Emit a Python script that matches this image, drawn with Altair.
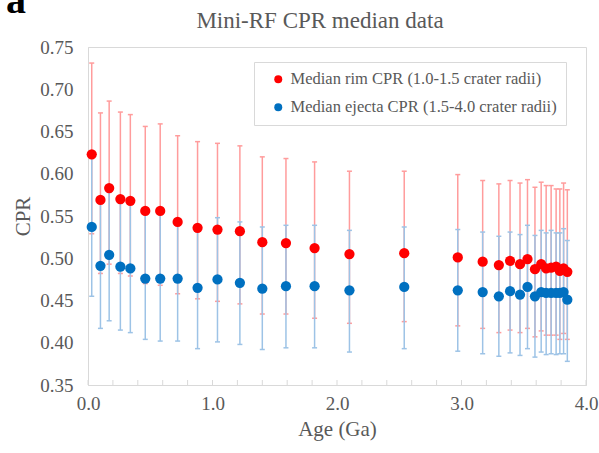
import altair as alt
import pandas as pd

# Crater age (Ga) and Mini-RF CPR statistics per age bin
age = [0.03, 0.10, 0.17, 0.26, 0.34, 0.46, 0.58, 0.72, 0.88, 1.04,
       1.22, 1.40, 1.59, 1.82, 2.10, 2.54, 2.97, 3.17, 3.30, 3.39,
       3.47, 3.53, 3.59, 3.64, 3.68, 3.72, 3.76, 3.79, 3.82, 3.85]

rim_median = [0.623, 0.569, 0.583, 0.570, 0.568, 0.556, 0.556, 0.543, 0.536, 0.534,
              0.532, 0.519, 0.518, 0.512, 0.505, 0.506, 0.501, 0.496, 0.492, 0.497,
              0.493, 0.499, 0.487, 0.493, 0.488, 0.489, 0.490, 0.485, 0.488, 0.484]
rim_high = [0.731, 0.672, 0.686, 0.673, 0.670, 0.656, 0.659, 0.645, 0.638, 0.636,
            0.633, 0.620, 0.618, 0.614, 0.603, 0.603, 0.599, 0.592, 0.588, 0.592,
            0.589, 0.593, 0.584, 0.590, 0.586, 0.586, 0.582, 0.582, 0.589, 0.581]
rim_low = [0.529, 0.482, 0.493, 0.482, 0.479, 0.470, 0.468, 0.458, 0.452, 0.449,
           0.446, 0.434, 0.434, 0.429, 0.423, 0.425, 0.420, 0.417, 0.412, 0.415,
           0.412, 0.417, 0.407, 0.414, 0.409, 0.409, 0.409, 0.404, 0.411, 0.404]

ejecta_median = [0.537, 0.491, 0.504, 0.490, 0.488, 0.476, 0.476, 0.476, 0.465, 0.475,
                 0.471, 0.464, 0.467, 0.467, 0.462, 0.466, 0.462, 0.460, 0.455, 0.461,
                 0.457, 0.466, 0.455, 0.460, 0.459, 0.459, 0.459, 0.459, 0.460, 0.451]
ejecta_high = [0.620, 0.565, 0.578, 0.565, 0.565, 0.559, 0.560, 0.543, 0.537, 0.548,
               0.543, 0.537, 0.539, 0.539, 0.533, 0.537, 0.534, 0.531, 0.526, 0.531,
               0.528, 0.539, 0.527, 0.533, 0.530, 0.533, 0.530, 0.530, 0.535, 0.521]
ejecta_low = [0.455, 0.417, 0.426, 0.415, 0.412, 0.404, 0.402, 0.402, 0.393, 0.401,
              0.398, 0.392, 0.394, 0.394, 0.389, 0.393, 0.390, 0.387, 0.384, 0.388,
              0.385, 0.393, 0.383, 0.389, 0.386, 0.387, 0.386, 0.387, 0.387, 0.378]

x_labels = [0.0, 1.0, 2.0, 3.0, 4.0]
x_minor_ticks = [0.0, 0.2, 0.4, 0.6, 0.8, 1.0, 1.2, 1.4, 1.6, 1.8, 2.0,
                 2.2, 2.4, 2.6, 2.8, 3.0, 3.2, 3.4, 3.6, 3.8, 4.0]
y_labels = [0.35, 0.40, 0.45, 0.50, 0.55, 0.60, 0.65, 0.70, 0.75]

TITLE = "Mini-RF CPR median data"
RIM = "Median rim CPR (1.0-1.5 crater radii)"
EJECTA = "Median ejecta CPR (1.5-4.0 crater radii)"

rim = pd.DataFrame({"age": age, "cpr": rim_median, "lo": rim_low, "hi": rim_high, "series": RIM})
ejecta = pd.DataFrame({"age": age, "cpr": ejecta_median, "lo": ejecta_low, "hi": ejecta_high, "series": EJECTA})
df = pd.concat([rim, ejecta], ignore_index=True)

FONT = "Liberation Serif"
GREY = "#595959"
FRAME = "#D9D9D9"
W, H = 498, 338

x_scale = alt.Scale(domain=[0, 4], nice=False, zero=False)
y_scale = alt.Scale(domain=[0.35, 0.75], nice=False, zero=False)

x_axis = alt.Axis(
    values=x_labels, format=".1f", title="Age (Ga)", grid=False, ticks=False,
    labelFlush=False, domainColor=FRAME, labelColor=GREY, labelFont=FONT,
    labelFontSize=19, labelPadding=9, titleFont=FONT, titleFontSize=21,
    titleColor=GREY, titleFontWeight="normal", titlePadding=5,
)
y_axis = alt.Axis(
    values=y_labels, format=".2f", title="CPR", grid=False, ticks=False,
    labelFlush=False, domainColor=FRAME, labelColor=GREY, labelFont=FONT,
    labelFontSize=19, labelPadding=15, titleFont=FONT, titleFontSize=21,
    titleColor=GREY, titleFontWeight="normal", titlePadding=6,
)

base = alt.Chart(df)


def error_bars(name, color):
    d = base.transform_filter(alt.datum.series == name)
    stem = d.mark_rule(color=color, strokeWidth=1.5).encode(
        x=alt.X("age:Q", scale=x_scale, axis=x_axis),
        y=alt.Y("lo:Q", scale=y_scale, axis=y_axis),
        y2="hi:Q",
    )
    cap_hi = d.mark_rule(color=color, strokeWidth=1.5, xOffset=-2.5, x2Offset=2.5).encode(
        x="age:Q", x2="age:Q", y="hi:Q"
    )
    cap_lo = d.mark_rule(color=color, strokeWidth=1.5, xOffset=-2.5, x2Offset=2.5).encode(
        x="age:Q", x2="age:Q", y="lo:Q"
    )
    return stem + cap_hi + cap_lo


points = base.mark_circle(size=105, opacity=1).encode(
    x="age:Q",
    y="cpr:Q",
    color=alt.Color(
        "series:N",
        sort=[RIM, EJECTA],
        scale=alt.Scale(domain=[RIM, EJECTA], range=["#FF0000", "#0070C0"]),
        legend=alt.Legend(
            title=None, orient="none", legendX=166, legendY=15,
            direction="vertical", symbolType="circle", symbolSize=64,
            symbolOffset=7, labelFont=FONT, labelFontSize=16.5, labelColor=GREY,
            labelOffset=4, rowPadding=11, padding=9,
            strokeColor=FRAME, fillColor="white", labelLimit=400,
        ),
    ),
)

minor_ticks = alt.Chart(pd.DataFrame({"t": x_minor_ticks})).mark_rule(
    color=FRAME, strokeWidth=1
).encode(x="t:Q", y=alt.value(H - 5), y2=alt.value(H))

# chart heading
heading = alt.Chart(pd.DataFrame({"label": [TITLE]})).mark_text(
    font=FONT, fontSize=23, color=GREY, align="center", baseline="alphabetic",
).encode(text="label:N", x=alt.value(232), y=alt.value(-19))

# panel letter in the top-left corner
panel_label = alt.Chart(pd.DataFrame({"panel": ["a"]})).mark_text(
    font=FONT, fontSize=40, fontWeight="bold", align="left",
    baseline="alphabetic", color="black",
).encode(text="panel:N", x=alt.value(-82), y=alt.value(-34))

chart = (
    alt.layer(
        error_bars(RIM, "#FF9C9C"),
        error_bars(EJECTA, "#9DC3E6"),
        minor_ticks,
        points,
        heading,
        panel_label,
    )
    .properties(
        width=W,
        height=H,
        autosize=alt.AutoSizeParams(type="none"),
        padding={"left": 88, "top": 47, "right": 13, "bottom": 68},
        background="white",
    )
    .configure_view(stroke=FRAME, strokeWidth=1)
)

chart.save("out.html", embed_options={"renderer": "svg", "actions": False})
